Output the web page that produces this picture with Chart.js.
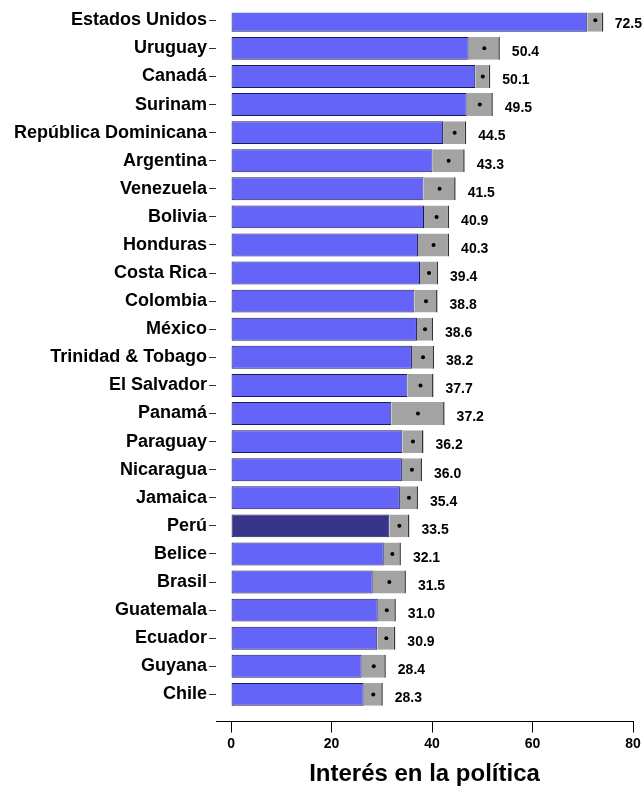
<!DOCTYPE html>
<html>
<head>
<meta charset="utf-8">
<script src="https://cdn.jsdelivr.net/npm/chart.js@4.4.1/dist/chart.umd.min.js"></script>
<style>
  html, body { margin: 0; padding: 0; background: #fff; }
  #wrap { width: 644px; height: 792px; position: relative; }
</style>
</head>
<body>
<div id="wrap"><canvas id="chart"></canvas></div>
<script>
const countries = [
  "Estados Unidos", "Uruguay", "Canadá", "Surinam", "República Dominicana",
  "Argentina", "Venezuela", "Bolivia", "Honduras", "Costa Rica",
  "Colombia", "México", "Trinidad & Tobago", "El Salvador", "Panamá",
  "Paraguay", "Nicaragua", "Jamaica", "Perú", "Belice",
  "Brasil", "Guatemala", "Ecuador", "Guyana", "Chile"
];
// mean score per country
const means = [
  72.5, 50.4, 50.1, 49.5, 44.5,
  43.3, 41.5, 40.9, 40.3, 39.4,
  38.8, 38.6, 38.2, 37.7, 37.2,
  36.2, 36.0, 35.4, 33.5, 32.1,
  31.5, 31.0, 30.9, 28.4, 28.3
];
// half width of the confidence interval (gray part)
const errors = [
  1.6, 3.1, 1.5, 2.6, 2.3,
  3.2, 3.2, 2.5, 3.1, 1.8,
  2.3, 1.6, 2.2, 2.6, 5.3,
  2.1, 2.0, 1.8, 2.0, 1.7,
  3.3, 1.8, 1.8, 2.4, 1.9
];
const highlight = "Perú";
const xTicks = [0, 20, 40, 60, 80];

const blue = "#6464f8";
const dark = "#36358a";
const gray = "#a3a3a3";
const font = "'Liberation Sans', Arial, sans-serif";

const valueLabels = {
  id: "valueLabels",
  afterDatasetsDraw(chart) {
    const { ctx, scales: { x, y } } = chart;
    ctx.save();
    ctx.font = "bold 14px " + font;
    ctx.fillStyle = "#000";
    ctx.textBaseline = "middle";
    ctx.textAlign = "left";
    means.forEach((m, i) => {
      const txt = m.toFixed(1);
      let px = x.getPixelForValue(m + errors[i]) + 12;
      const w = ctx.measureText(txt).width;
      if (px + w > chart.width - 2) px = chart.width - 2 - w;
      ctx.fillText(txt, px, y.getPixelForValue(i) + 4);
    });
    ctx.restore();
  }
};

new Chart(document.getElementById("chart"), {
  type: "bar",
  data: {
    datasets: [
      {
        type: "scatter",
        data: means.map((m, i) => ({ x: m, y: i })),
        pointRadius: 2,
        pointBackgroundColor: "#000",
        pointBorderWidth: 0,
        order: 0
      },
      {
        data: means.map((m, i) => ({ x: [m - errors[i], m + errors[i]], y: i })),
        backgroundColor: gray,
        borderColor: "#333",
        borderWidth: { left: 0, top: 0, bottom: 0, right: 1.5 },
        borderSkipped: false,
        grouped: false,
        barPercentage: 0.816,
        categoryPercentage: 1,
        order: 1
      },
      {
        data: means.map((m, i) => ({ x: [0, m - errors[i]], y: i })),
        backgroundColor: countries.map(c => c === highlight ? dark : blue),
        borderColor: "#1c1c55",
        borderWidth: 1,
        borderSkipped: false,
        grouped: false,
        barPercentage: 0.816,
        categoryPercentage: 1,
        order: 2
      }
    ]
  },
  options: {
    indexAxis: "y",
    responsive: true,
    maintainAspectRatio: false,
    animation: false,
    layout: { padding: { top: 10, right: 11, bottom: 0, left: 0 } },
    plugins: {
      legend: { display: false },
      tooltip: { enabled: false }
    },
    scales: {
      x: {
        type: "linear",
        position: "bottom",
        min: -3,
        max: 80,
        afterFit(scale) { scale.height = 70.5; },
        afterBuildTicks(scale) { scale.ticks = xTicks.map(v => ({ value: v })); },
        ticks: {
          includeBounds: false,
          color: "#000",
          padding: 3,
          font: { family: font, size: 14, weight: "bold" }
        },
        grid: { drawOnChartArea: false, drawTicks: true, tickLength: 11, color: "#000" },
        border: { display: true, color: "#000", width: 1 },
        title: {
          display: true,
          text: "Interés en la política",
          color: "#000",
          font: { family: font, size: 24, weight: "bold" },
          padding: { top: 4, bottom: 3 }
        }
      },
      y: {
        type: "linear",
        position: "left",
        reverse: true,
        offset: false,
        min: -0.266,
        max: 24.965,
        afterFit(scale) { scale.width = 216; },
        ticks: {
          stepSize: 1,
          includeBounds: false,
          autoSkip: false,
          color: "#000",
          padding: 2,
          font: { family: font, size: 18, weight: "bold" },
          callback: (v) => countries[v] !== undefined ? countries[v] : ""
        },
        grid: { offset: false, drawOnChartArea: false, drawTicks: true, tickLength: 7, color: "#333" },
        border: { display: false }
      }
    }
  },
  plugins: [valueLabels]
});
</script>
</body>
</html>
